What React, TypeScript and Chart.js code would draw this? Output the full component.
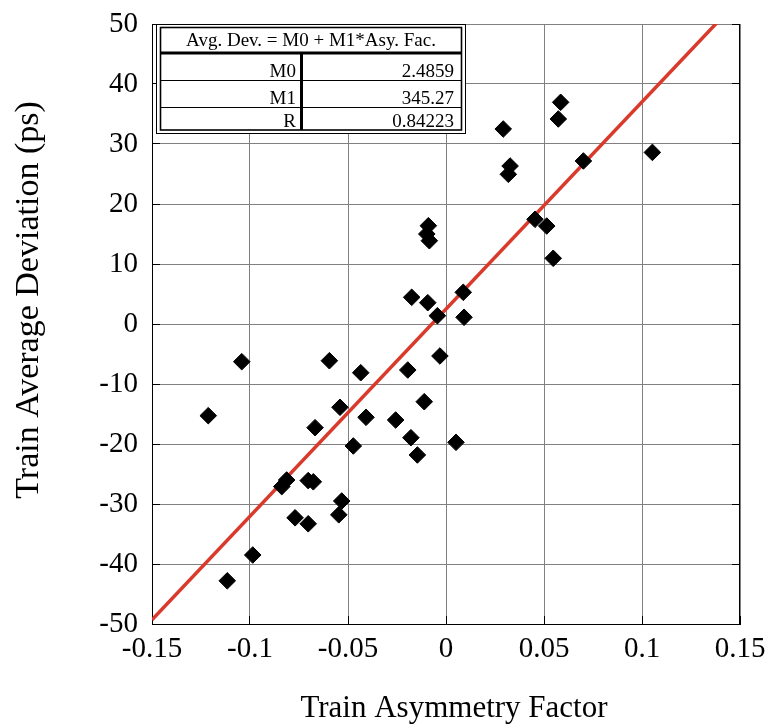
import { useEffect, useRef } from "react";
import { Chart, registerables } from "chart.js";

Chart.register(...registerables);

// ---- data ----
const asymmetryFactor = [
  -0.1042, -0.1213, -0.0595, -0.0435, -0.0195, -0.0031, -0.0541, -0.0408,
  -0.0257, -0.0111, -0.0668, -0.0473, -0.0179, -0.0146, 0.0051, -0.0838,
  -0.0813, -0.0703, -0.0677, -0.0532, -0.0547, -0.077, -0.0703, -0.0986,
  -0.1116, 0.0585, 0.0573, 0.0292, 0.0327, 0.0318, 0.1053, 0.0701, 0.0454,
  0.0514, 0.0547, -0.009, -0.0098, -0.0085, -0.0175, -0.0093, -0.0044,
  0.0088, 0.0092,
];
const avgDeviation = [
  -6.28, -15.28, -6.12, -8.12, -7.67, -5.33, -13.88, -15.55, -16.0, -12.95,
  -17.28, -20.33, -18.95, -21.83, -19.72, -27.1, -26.0, -26.1, -26.3, -29.5,
  -31.8, -32.3, -33.3, -38.5, -42.8, 36.95, 34.17, 32.5, 26.33, 24.95, 28.6,
  27.17, 17.45, 16.33, 10.95, 16.38, 15.0, 13.88, 4.45, 3.55, 1.38, 5.28,
  1.12,
];
const xTickValues = [-0.15, -0.1, -0.05, 0, 0.05, 0.1, 0.15];
const yTickValues = [-50, -40, -30, -20, -10, 0, 10, 20, 30, 40, 50];
const fitM0 = 2.4859;
const fitM1 = 345.27;
const fitHeader = "Avg. Dev. = M0 + M1*Asy. Fac.";
const fitRowLabels = ["M0", "M1", "R"];
const fitRowValues = ["2.4859", "345.27", "0.84223"];
const xTitle = "Train Asymmetry Factor";
const yTitle = "Train Average Deviation (ps)";

const SERIF = "'Liberation Serif', 'DejaVu Serif', serif";

const zeroPadding = (s: any) => {
  s.paddingTop = 0;
  s.paddingBottom = 0;
  s.paddingLeft = 0;
  s.paddingRight = 0;
};

const overlayPlugin = {
  id: "overlay",
  beforeDatasetsDraw(chart: any) {
    const { ctx, chartArea: a, scales } = chart;
    ctx.save();
    ctx.strokeStyle = "#000";
    ctx.lineWidth = 1;
    ctx.beginPath();
    ctx.moveTo(Math.round(a.right) - 0.5, a.top);
    ctx.lineTo(Math.round(a.right) - 0.5, a.bottom);
    for (const v of yTickValues) {
      const py = Math.round(scales.y.getPixelForValue(v) - 0.5) + 0.5;
      ctx.moveTo(a.left, py);
      ctx.lineTo(a.left + 8, py);
      ctx.moveTo(a.right - 8, py);
      ctx.lineTo(a.right, py);
    }
    for (const v of xTickValues) {
      const px = Math.round(scales.x.getPixelForValue(v) - 0.5) + 0.5;
      ctx.moveTo(px, a.bottom);
      ctx.lineTo(px, a.bottom - 8);
    }
    ctx.stroke();
    ctx.restore();
  },
  afterDatasetsDraw(chart: any) {
    const { ctx } = chart;
    ctx.save();
    ctx.fillStyle = "#fff";
    ctx.fillRect(156, 24, 310, 110);
    ctx.strokeStyle = "#000";
    ctx.lineWidth = 1;
    ctx.strokeRect(156.5, 24.5, 309, 109);
    ctx.lineWidth = 1.6;
    ctx.strokeRect(160.5, 27.5, 301, 102.5);
    ctx.lineWidth = 3;
    ctx.beginPath();
    ctx.moveTo(160.5, 53);
    ctx.lineTo(461.5, 53);
    ctx.moveTo(301.5, 53);
    ctx.lineTo(301.5, 130);
    ctx.stroke();
    ctx.lineWidth = 1;
    ctx.beginPath();
    ctx.moveTo(160.5, 80.5);
    ctx.lineTo(461.5, 80.5);
    ctx.moveTo(160.5, 107.5);
    ctx.lineTo(461.5, 107.5);
    ctx.stroke();
    ctx.fillStyle = "#000";
    ctx.font = `19px ${SERIF}`;
    ctx.textBaseline = "alphabetic";
    ctx.textAlign = "center";
    ctx.fillText(fitHeader, 311, 46);
    const baselines = [77, 104, 127];
    fitRowLabels.forEach((lab, i) => {
      ctx.textAlign = "right";
      ctx.fillText(lab, 296, baselines[i]);
      ctx.fillText(fitRowValues[i], 454, baselines[i]);
    });
    ctx.restore();
  },
  afterDraw(chart: any) {
    const { ctx } = chart;
    ctx.save();
    ctx.fillStyle = "#000";
    ctx.textBaseline = "alphabetic";
    ctx.textAlign = "center";
    ctx.font = `31px ${SERIF}`;
    ctx.fillText(xTitle, 454, 717);
    ctx.translate(38, 300);
    ctx.rotate(-Math.PI / 2);
    ctx.font = `34px ${SERIF}`;
    ctx.fillText(yTitle, 0, 0);
    ctx.restore();
  },
};

export default function App() {
  const ref = useRef<HTMLCanvasElement | null>(null);

  useEffect(() => {
    if (!ref.current) return;
    const points = asymmetryFactor.map((x, i) => ({ x, y: avgDeviation[i] }));
    const xEnds = [xTickValues[0], xTickValues[xTickValues.length - 1]];
    const fitLine = xEnds.map((x) => ({ x, y: fitM0 + fitM1 * x }));

    const chart = new Chart(ref.current, {
      type: "scatter",
      data: {
        datasets: [
          {
            label: "data",
            data: points,
            pointStyle: "rectRot",
            pointRadius: 8.3,
            pointBackgroundColor: "#000",
            pointBorderColor: "#000",
            pointBorderWidth: 1,
            showLine: false,
          },
          {
            label: "fit",
            type: "line",
            data: fitLine,
            borderColor: "#d93a2b",
            borderWidth: 3.5,
            pointRadius: 0,
            fill: false,
          } as any,
        ],
      },
      options: {
        responsive: false,
        animation: false,
        events: [],
        layout: { padding: { left: 0, right: 27, top: 24, bottom: 0 } },
        plugins: {
          legend: { display: false },
          tooltip: { enabled: false },
        },
        scales: {
          x: {
            type: "linear",
            min: -0.15,
            max: 0.15,
            afterFit: (s: any) => {
              s.height = 104;
              zeroPadding(s);
            },
            afterBuildTicks: (s: any) => {
              s.ticks = xTickValues.map((v) => ({ value: v }));
            },
            ticks: {
              autoSkip: false,
              maxRotation: 0,
              padding: 8,
              color: "#000",
              font: { family: SERIF, size: 29 },
              callback: (v: any) => String(Number(Number(v).toFixed(2))),
            },
            grid: { color: "#808080", lineWidth: 1, drawTicks: false },
            border: { display: true, color: "#000", width: 1 },
          },
          y: {
            type: "linear",
            min: -50,
            max: 50,
            afterFit: (s: any) => {
              s.width = 152;
              zeroPadding(s);
            },
            afterBuildTicks: (s: any) => {
              s.ticks = yTickValues.map((v) => ({ value: v }));
            },
            ticks: {
              autoSkip: false,
              padding: 14,
              color: "#000",
              font: { family: SERIF, size: 29 },
              callback: (v: any) => String(v),
            },
            grid: { color: "#808080", lineWidth: 1, drawTicks: false },
            border: { display: true, color: "#000", width: 1 },
          },
        },
      },
      plugins: [overlayPlugin],
    });
    return () => chart.destroy();
  }, []);

  return (
    <div
      style={{
        position: "fixed",
        left: 0,
        top: 0,
        width: 767,
        height: 728,
        background: "#fff",
      }}
    >
      <canvas ref={ref} width={767} height={728} />
    </div>
  );
}
